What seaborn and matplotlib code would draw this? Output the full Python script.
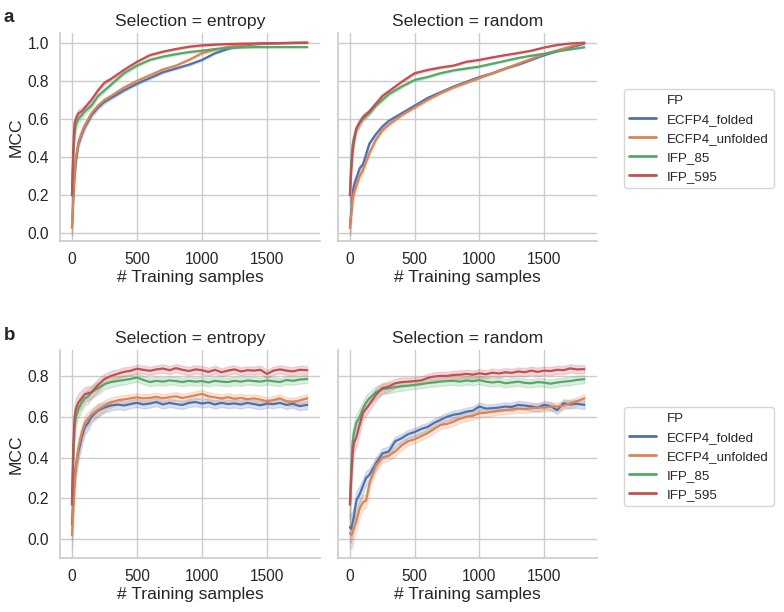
import numpy as np
import pandas as pd
import matplotlib
matplotlib.use("Agg")
import matplotlib.pyplot as plt
from matplotlib.lines import Line2D
import seaborn as sns

# ---------------- data ----------------
fps = ["ECFP4_folded", "ECFP4_unfolded", "IFP_85", "IFP_595"]
selections = ["entropy", "random"]

xs_a = [0, 10, 20, 30, 50, 75, 100, 150, 200, 250, 300, 400, 500, 600, 700,
        800, 900, 1000, 1100, 1200, 1300, 1400, 1500, 1600, 1700, 1810]
band_a = [0.04, 0.04, 0.03, 0.03, 0.02, 0.02, 0.015, 0.012, 0.01, 0.01, 0.008,
          0.007, 0.006, 0.006, 0.005, 0.005, 0.005, 0.005, 0.004, 0.004, 0.003,
          0.003, 0.003, 0.002, 0.002, 0.002]

a_entropy_ecfp4_folded = [0.03, 0.18, 0.30, 0.38, 0.47, 0.52, 0.56, 0.62, 0.66, 0.69, 0.71, 0.75, 0.785,
                          0.815, 0.845, 0.865, 0.885, 0.91, 0.945, 0.968, 0.983, 0.992, 0.996, 0.998, 0.999, 1.0]
a_entropy_ecfp4_unfolded = [0.03, 0.20, 0.32, 0.40, 0.48, 0.53, 0.57, 0.63, 0.67, 0.70, 0.72, 0.765, 0.80,
                            0.83, 0.86, 0.88, 0.91, 0.945, 0.963, 0.978, 0.988, 0.994, 0.997, 0.998, 0.999, 1.0]
a_entropy_ifp_85 = [0.20, 0.40, 0.52, 0.57, 0.60, 0.62, 0.64, 0.67, 0.72, 0.75, 0.78, 0.84, 0.88,
                    0.91, 0.927, 0.94, 0.951, 0.958, 0.967, 0.972, 0.975, 0.977, 0.977, 0.977, 0.977, 0.977]
a_entropy_ifp_595 = [0.20, 0.45, 0.58, 0.60, 0.63, 0.64, 0.66, 0.70, 0.75, 0.79, 0.81, 0.857, 0.90,
                     0.935, 0.953, 0.967, 0.979, 0.986, 0.99, 0.993, 0.995, 0.996, 0.997, 0.998, 0.999, 1.0]

a_random_ecfp4_folded = [0.03, 0.12, 0.20, 0.25, 0.29, 0.34, 0.36, 0.47, 0.52, 0.56, 0.59, 0.63, 0.67,
                         0.71, 0.74, 0.77, 0.795, 0.82, 0.84, 0.865, 0.885, 0.91, 0.935, 0.955, 0.975, 0.995]
a_random_ecfp4_unfolded = [0.03, 0.10, 0.17, 0.21, 0.25, 0.30, 0.33, 0.42, 0.49, 0.54, 0.57, 0.62, 0.66,
                           0.70, 0.735, 0.765, 0.79, 0.815, 0.84, 0.865, 0.89, 0.915, 0.94, 0.96, 0.98, 1.0]
a_random_ifp_85 = [0.20, 0.38, 0.46, 0.50, 0.55, 0.58, 0.60, 0.63, 0.67, 0.70, 0.73, 0.77, 0.805,
                   0.82, 0.84, 0.855, 0.865, 0.875, 0.89, 0.905, 0.92, 0.932, 0.942, 0.955, 0.965, 0.976]
a_random_ifp_595 = [0.20, 0.33, 0.42, 0.48, 0.55, 0.58, 0.61, 0.64, 0.68, 0.72, 0.745, 0.795, 0.84,
                    0.857, 0.87, 0.88, 0.90, 0.91, 0.923, 0.935, 0.946, 0.958, 0.975, 0.988, 0.996, 1.0]

xs_b = [0, 10, 20, 30, 50, 75, 100, 125, 150, 200, 250, 300, 350, 400, 450, 500, 550, 600, 650, 700,
        750, 800, 850, 900, 950, 1000, 1050, 1100, 1150, 1200, 1250, 1300, 1350, 1400, 1450, 1500,
        1550, 1600, 1650, 1700, 1750, 1810]
band_b = [0.07, 0.07, 0.06, 0.05, 0.045, 0.04, 0.035, 0.035, 0.03, 0.03, 0.025, 0.025, 0.022, 0.022,
          0.02, 0.02, 0.02, 0.02, 0.02, 0.02, 0.02, 0.02, 0.02, 0.02, 0.02, 0.02, 0.02, 0.02, 0.02,
          0.02, 0.02, 0.02, 0.02, 0.02, 0.02, 0.02, 0.02, 0.02, 0.02, 0.02, 0.02, 0.02]

b_entropy_ecfp4_folded = [0.07, 0.20, 0.30, 0.36, 0.43, 0.50, 0.55, 0.57, 0.60, 0.63, 0.645, 0.655, 0.66,
                          0.655, 0.662, 0.668, 0.66, 0.665, 0.672, 0.66, 0.668, 0.662, 0.658, 0.668, 0.672,
                          0.665, 0.67, 0.66, 0.668, 0.662, 0.665, 0.66, 0.668, 0.662, 0.656, 0.665, 0.662,
                          0.668, 0.658, 0.664, 0.652, 0.658]
b_entropy_ecfp4_unfolded = [0.02, 0.15, 0.28, 0.35, 0.45, 0.52, 0.57, 0.59, 0.61, 0.635, 0.655, 0.67, 0.68,
                            0.685, 0.69, 0.695, 0.69, 0.692, 0.698, 0.69, 0.696, 0.70, 0.692, 0.698, 0.705,
                            0.712, 0.70, 0.695, 0.69, 0.696, 0.688, 0.692, 0.686, 0.69, 0.684, 0.676, 0.682,
                            0.69, 0.676, 0.672, 0.68, 0.69]
b_entropy_ifp_85 = [0.17, 0.40, 0.55, 0.60, 0.64, 0.67, 0.69, 0.70, 0.72, 0.74, 0.76, 0.77, 0.775,
                    0.78, 0.785, 0.792, 0.78, 0.77, 0.776, 0.772, 0.778, 0.775, 0.77, 0.776, 0.772,
                    0.775, 0.768, 0.776, 0.772, 0.77, 0.776, 0.772, 0.778, 0.775, 0.772, 0.778, 0.774,
                    0.77, 0.78, 0.776, 0.782, 0.785]
b_entropy_ifp_595 = [0.17, 0.45, 0.60, 0.64, 0.67, 0.69, 0.71, 0.715, 0.72, 0.755, 0.785, 0.80, 0.81,
                     0.82, 0.825, 0.835, 0.83, 0.825, 0.832, 0.836, 0.828, 0.838, 0.83, 0.824, 0.832,
                     0.828, 0.82, 0.83, 0.818, 0.826, 0.832, 0.822, 0.828, 0.826, 0.83, 0.81, 0.826,
                     0.832, 0.826, 0.822, 0.83, 0.828]

b_random_ecfp4_folded = [0.06, 0.05, 0.08, 0.11, 0.19, 0.22, 0.26, 0.30, 0.315, 0.37, 0.42, 0.43, 0.48,
                         0.495, 0.515, 0.525, 0.54, 0.55, 0.57, 0.585, 0.60, 0.61, 0.615, 0.625, 0.63,
                         0.65, 0.64, 0.642, 0.645, 0.65, 0.648, 0.658, 0.655, 0.65, 0.645, 0.658, 0.652,
                         0.632, 0.666, 0.66, 0.664, 0.658]
b_random_ecfp4_unfolded = [0.03, 0.02, 0.03, 0.05, 0.09, 0.15, 0.18, 0.19, 0.27, 0.36, 0.40, 0.41, 0.43,
                           0.46, 0.48, 0.49, 0.505, 0.52, 0.54, 0.56, 0.565, 0.576, 0.59, 0.60, 0.605,
                           0.617, 0.62, 0.625, 0.63, 0.633, 0.636, 0.64, 0.638, 0.642, 0.645, 0.645, 0.65,
                           0.65, 0.655, 0.666, 0.675, 0.69]
b_random_ifp_85 = [0.17, 0.35, 0.47, 0.52, 0.57, 0.60, 0.64, 0.67, 0.69, 0.72, 0.735, 0.74, 0.745,
                   0.75, 0.752, 0.756, 0.76, 0.765, 0.768, 0.772, 0.775, 0.776, 0.772, 0.778, 0.774,
                   0.78, 0.772, 0.768, 0.772, 0.764, 0.768, 0.772, 0.766, 0.764, 0.77, 0.767, 0.762,
                   0.768, 0.772, 0.775, 0.78, 0.784]
b_random_ifp_595 = [0.17, 0.30, 0.41, 0.47, 0.50, 0.56, 0.62, 0.64, 0.66, 0.707, 0.74, 0.748, 0.764,
                    0.77, 0.772, 0.775, 0.778, 0.79, 0.797, 0.80, 0.80, 0.805, 0.806, 0.81, 0.806,
                    0.813, 0.808, 0.816, 0.812, 0.818, 0.815, 0.822, 0.818, 0.826, 0.82, 0.826, 0.824,
                    0.83, 0.828, 0.837, 0.832, 0.833]

yticks_a = [0.0, 0.2, 0.4, 0.6, 0.8, 1.0]
yticks_b = [0.0, 0.2, 0.4, 0.6, 0.8]
xticks = [0, 500, 1000, 1500]

# ---------------- style ----------------
sns.set_theme(style="whitegrid")
plt.rcParams["font.family"] = ["Liberation Sans", "DejaVu Sans"]
plt.rcParams["axes.edgecolor"] = "0.8"
plt.rcParams["grid.color"] = "0.8"
palette = sns.color_palette("deep", 4)


def long_frame(xs, band, series):
    rows = []
    for fp, ys in zip(fps, series):
        for x, y, b in zip(xs, ys, band):
            for v in (y - b, y, y + b):
                rows.append({"x": x, "MCC": v, "FP": fp})
    return pd.DataFrame(rows)


panels = {
    ("a", "entropy"): (xs_a, band_a, [a_entropy_ecfp4_folded, a_entropy_ecfp4_unfolded,
                                      a_entropy_ifp_85, a_entropy_ifp_595]),
    ("a", "random"): (xs_a, band_a, [a_random_ecfp4_folded, a_random_ecfp4_unfolded,
                                     a_random_ifp_85, a_random_ifp_595]),
    ("b", "entropy"): (xs_b, band_b, [b_entropy_ecfp4_folded, b_entropy_ecfp4_unfolded,
                                      b_entropy_ifp_85, b_entropy_ifp_595]),
    ("b", "random"): (xs_b, band_b, [b_random_ecfp4_folded, b_random_ecfp4_unfolded,
                                     b_random_ifp_85, b_random_ifp_595]),
}

W, H = 784, 612
fig = plt.figure(figsize=(W / 100, H / 100), dpi=100)


def px_axes(x0, y0, x1, y1):
    return fig.add_axes([x0 / W, 1 - y1 / H, (x1 - x0) / W, (y1 - y0) / H])


row_geom = {"a": (33, 241), "b": (350, 558)}
col_geom = {"entropy": (60, 320), "random": (338, 597)}
ylims = {"a": (-0.040, 1.051), "b": (-0.092, 0.927)}
yticks = {"a": yticks_a, "b": yticks_b}

for (row, sel), (xs, band, series) in panels.items():
    y0, y1 = row_geom[row]
    x0, x1 = col_geom[sel]
    ax = px_axes(x0, y0, x1, y1)
    df = long_frame(xs, band, series)
    sns.lineplot(data=df, x="x", y="MCC", hue="FP", hue_order=fps, palette=palette,
                 estimator="mean", errorbar=("pi", 100), lw=1.6, legend=False, ax=ax)
    ax.set_xlim(-92, 1908)
    ax.set_ylim(*ylims[row])
    ax.set_xticks(xticks)
    ax.set_yticks(yticks[row])
    ax.set_title(f"Selection = {sel}", fontsize=12.6, pad=5)
    ax.set_xlabel("# Training samples", fontsize=12.6, labelpad=2)
    ax.tick_params(axis="both", labelsize=11.2, pad=8, length=0, labelcolor="0.15")
    if sel == "entropy":
        ax.set_ylabel("MCC", fontsize=12.6, labelpad=3)
    else:
        ax.set_ylabel("")
        ax.tick_params(axis="y", labelleft=False)
    sns.despine(ax=ax)

# legends
for row, ytop in (("a", 89), ("b", 407)):
    handles = [Line2D([], [], color="none")] + [Line2D([], [], color=c, lw=2.0) for c in palette]
    labels = ["FP"] + fps
    fig.legend(handles, labels, loc="upper left", bbox_to_anchor=(624 / W, 1 - ytop / H),
               fontsize=9.6, frameon=True, handlelength=2.0, borderaxespad=0.0,
               edgecolor="0.8", fancybox=True)

fig.text(4 / W, 1 - 18 / H, "a", fontsize=13.5, fontweight="bold", va="center", ha="left")
fig.text(4 / W, 1 - 335 / H, "b", fontsize=13.5, fontweight="bold", va="center", ha="left")

fig.savefig("out.png", dpi=100)
